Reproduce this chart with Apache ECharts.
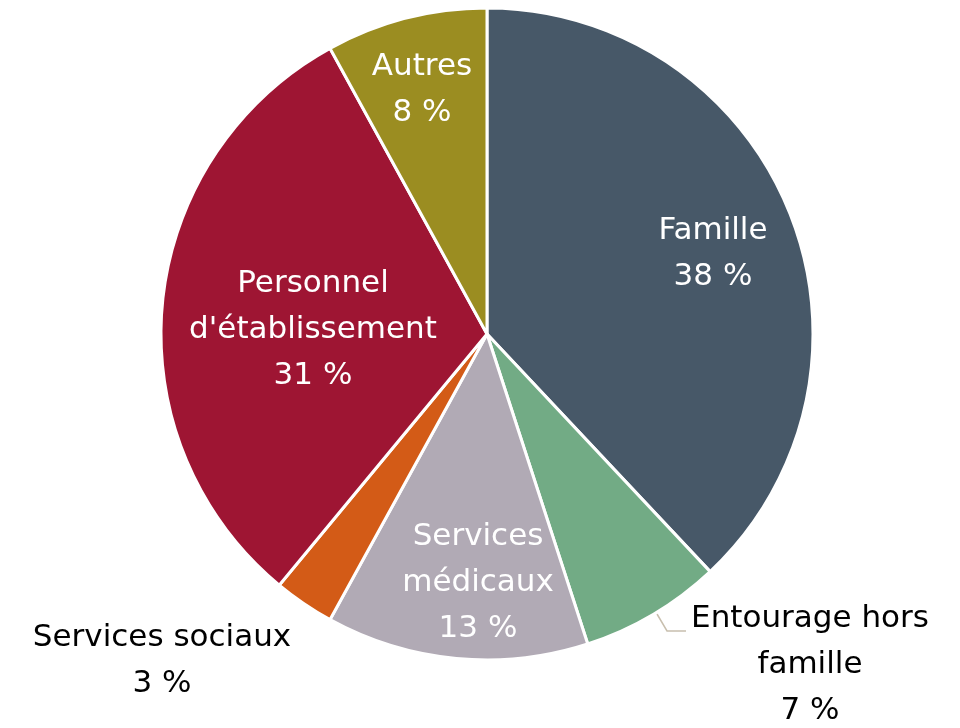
<!DOCTYPE html>
<html>
<head>
<meta charset="utf-8">
<script src="https://cdn.jsdelivr.net/npm/echarts@6/dist/echarts.min.js"></script>
<style>
  html, body { margin: 0; padding: 0; background: #fff; }
  #chart { width: 960px; height: 728px; }
</style>
</head>
<body>
<div id="chart"></div>
<script>
const categories = ["Famille", "Entourage hors\nfamille", "Services\nmédicaux", "Services sociaux", "Personnel\nd'établissement", "Autres"];
const values = [38, 7, 13, 3, 31, 8];
const colors = ["#475868", "#72ab85", "#b1aab5", "#d35b17", "#9e1533", "#9b8d21"];

// label anchor points (layout only)
const labelPos = [[713, 254], [810, 665], [478, 583], [162, 661], [313, 330], [422, 90]];
const outside = [false, true, false, true, false, false];
// short leader line for "Entourage hors famille"
const entourageLine = [[657, 614], [667, 631], [686, 631]];

const chart = echarts.init(document.getElementById("chart"));

chart.setOption({
    animation: false,
    series: [{
        type: "pie",
        center: [487, 334],
        radius: 326,
        startAngle: 90,
        clockwise: true,
        itemStyle: { borderColor: "#fff", borderWidth: 3 },
        label: {
            show: true,
            position: "inside",
            fontFamily: "DejaVu Sans",
            fontSize: 31,
            lineHeight: 46,
            color: "#fff",
            overflow: "none",
            formatter: p => p.name + "\n" + p.value + " %"
        },
        labelLine: { show: false },
        labelLayout: function (params) {
            const pos = labelPos[params.dataIndex];
            const out = { x: pos[0], y: pos[1], align: "center", verticalAlign: "middle" };
            if (params.dataIndex === 1) out.labelLinePoints = entourageLine;
            return out;
        },
        data: categories.map((name, i) => ({
            name: name,
            value: values[i],
            itemStyle: { color: colors[i] },
            label: outside[i] ? { position: "outside", color: "#000", overflow: "none", width: 320 } : undefined,
            labelLine: i === 1 ? { show: true, length: 8, length2: 12, lineStyle: { color: "#c8bfae", width: 1.5 } } : undefined
        }))
    }]
});
</script>
</body>
</html>
